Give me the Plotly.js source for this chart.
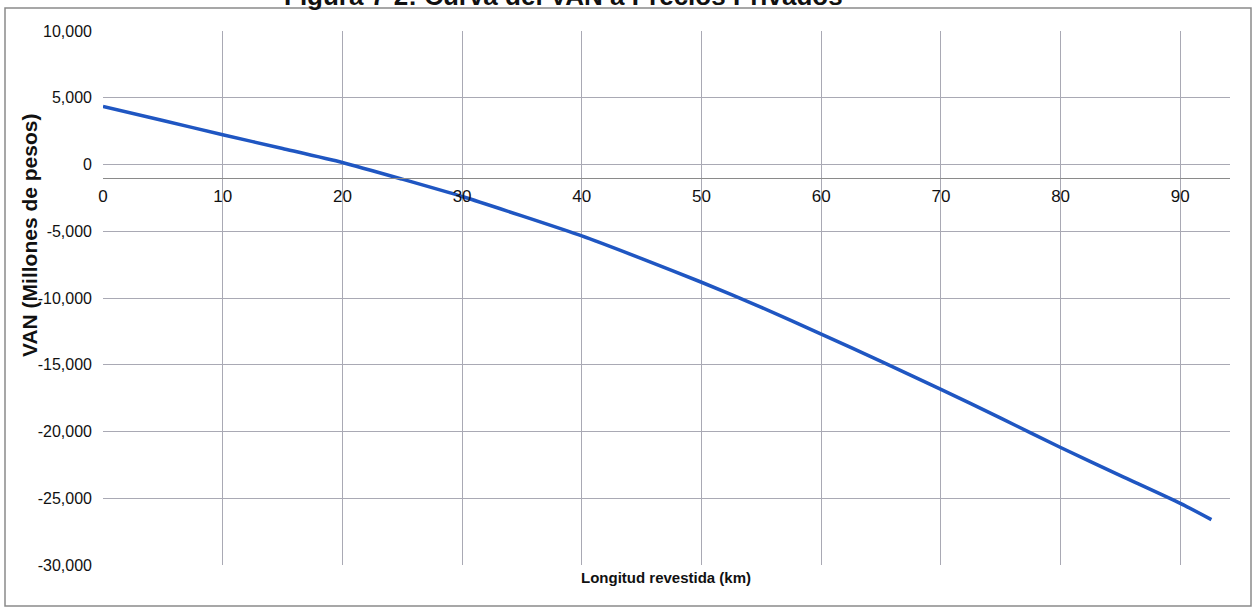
<!DOCTYPE html>
<html>
<head>
<meta charset="utf-8">
<script src="https://cdn.plot.ly/plotly-3.0.1.min.js"></script>
<style>
html,body{margin:0;padding:0;background:#fff;}
#chart{width:1254px;height:610px;}
</style>
</head>
<body>
<div id="chart"></div>
<script>
// Data
const longitudKm = [0, 5, 10, 15, 20, 25, 30, 35, 40, 45, 50, 55, 60, 65, 70, 75, 80, 85, 90, 92.6];
const vanMillones = [4350, 3300, 2230, 1200, 150, -1100, -2400, -3850, -5350, -7050, -8820, -10700, -12700, -14750, -16840, -19000, -21200, -23300, -25380, -26600];

const xTickVals = [0, 10, 20, 30, 40, 50, 60, 70, 80, 90];
const yTickVals = [10000, 5000, 0, -5000, -10000, -15000, -20000, -25000, -30000];
const yTickText = ["10,000", "5,000", "0", "-5,000", "-10,000", "-15,000", "-20,000", "-25,000", "-30,000"];

const titleText = "Figura 7-2: Curva del VAN a Precios Privados";
const xTitle = "Longitud revestida (km)";
const yTitle = "VAN (Millones de pesos)";

const W = 1254, H = 610;
const m = {l: 103, r: 24, t: 31, b: 45};
const pw = W - m.l - m.r, ph = H - m.t - m.b;
const px = x => (x - m.l) / pw;
const py = y => (H - m.b - y) / ph;

const sans = "Liberation Sans, Arial, sans-serif";

const trace = {
  x: longitudKm,
  y: vanMillones,
  type: "scatter",
  mode: "lines",
  line: {color: "#1f56c2", width: 3.5, shape: "spline", smoothing: 0.6},
  hoverinfo: "x+y",
  showlegend: false
};

const layout = {
  width: W, height: H,
  margin: m,
  paper_bgcolor: "#ffffff",
  plot_bgcolor: "#ffffff",
  xaxis: {
    range: [0, pw / 11.97],
    tickvals: xTickVals,
    ticktext: xTickVals.map(String),
    showgrid: true,
    gridcolor: "#a9a9b4",
    gridwidth: 1,
    zeroline: false,
    showline: true,
    linecolor: "#8a8a8a",
    linewidth: 1,
    anchor: "free",
    position: 0.725,
    ticks: "",
    ticklabelstandoff: 3,
    tickfont: {family: sans, size: 17, color: "#111"}
  },
  yaxis: {
    range: [-30000, 10000],
    tickvals: yTickVals,
    ticktext: yTickText,
    showgrid: true,
    gridcolor: "#a9a9b4",
    gridwidth: 1,
    zeroline: false,
    showline: false,
    ticks: "",
    ticklabelstandoff: 10,
    tickfont: {family: sans, size: 16, color: "#111"}
  },
  annotations: [
    {
      text: "<b>" + titleText + "</b>",
      xref: "paper", yref: "paper",
      x: px(563), y: py(13),
      xanchor: "center", yanchor: "bottom",
      showarrow: false,
      font: {family: sans, size: 26, color: "#111"}
    },
    {
      text: "<b>" + xTitle + "</b>",
      xref: "paper", yref: "paper",
      x: px(666), y: py(577),
      xanchor: "center", yanchor: "middle",
      showarrow: false,
      font: {family: sans, size: 15, color: "#111"}
    },
    {
      text: "<b>" + yTitle + "</b>",
      xref: "paper", yref: "paper",
      x: px(29), y: py(236),
      xanchor: "center", yanchor: "middle",
      textangle: -90,
      showarrow: false,
      font: {family: sans, size: 21, color: "#111"}
    }
  ],
  shapes: [
    {
      type: "rect", xref: "paper", yref: "paper",
      x0: px(5), x1: px(1251), y0: py(606), y1: py(8),
      line: {color: "#8a8a8a", width: 1.5},
      fillcolor: "rgba(0,0,0,0)",
      layer: "below"
    }
  ]
};

Plotly.newPlot("chart", [trace], layout, {displayModeBar: false, staticPlot: true});
</script>
</body>
</html>
